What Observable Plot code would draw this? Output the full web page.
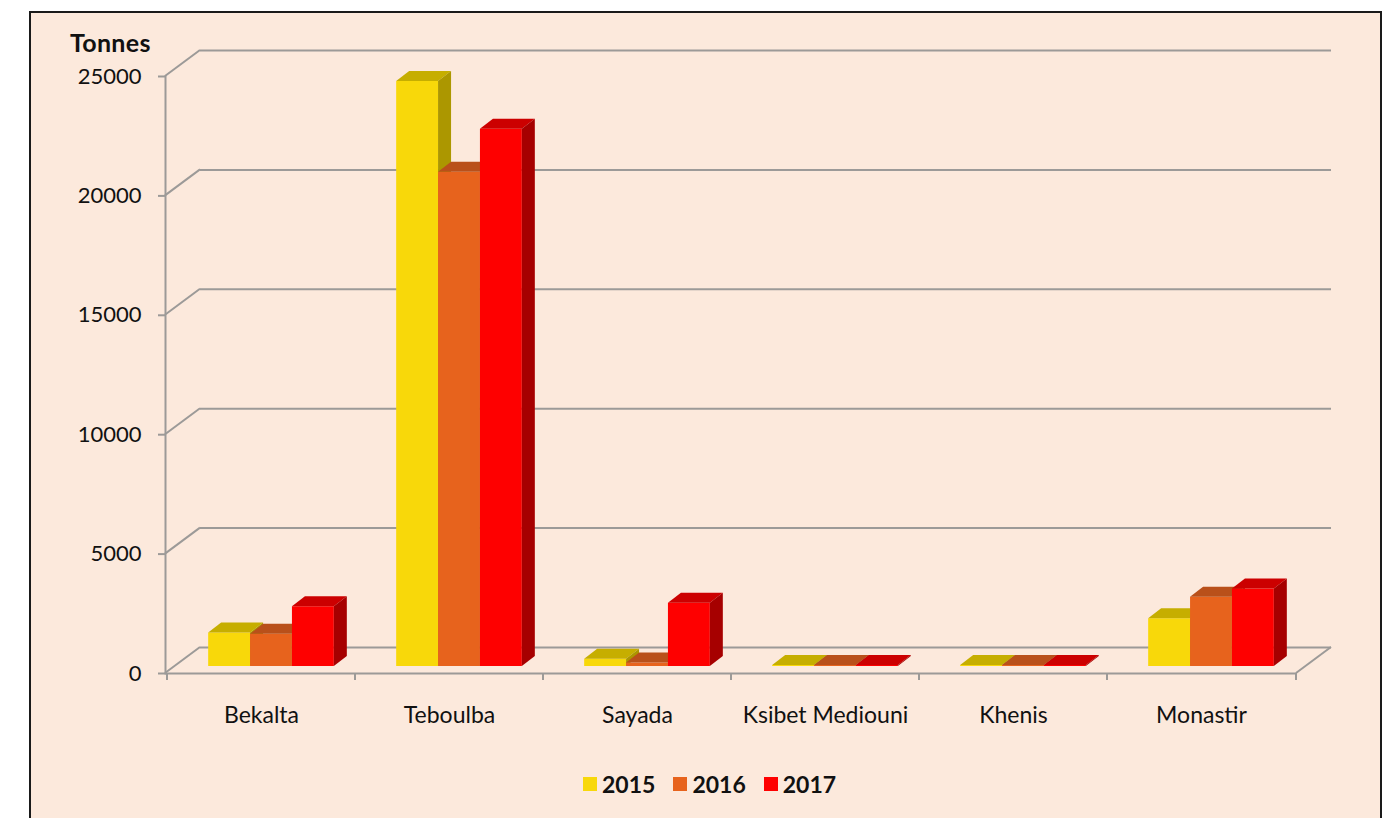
<!DOCTYPE html>
<html>
<head>
<meta charset="utf-8">
<script src="https://cdn.jsdelivr.net/npm/d3@7"></script>
<script src="https://cdn.jsdelivr.net/npm/@observablehq/plot@0.6"></script>
<style>
  html, body { margin: 0; padding: 0; background: #ffffff; }
  #frame { position: absolute; left: 29px; top: 11px; width: 1353px; height: 830px; box-sizing: border-box;
           border: 2px solid #1a1a1a; background: #FCE9DC; }
  #chart { position: absolute; left: 0; top: 0; }
  #ylabel { position: absolute; left: 70px; top: 27px; font: bold 25px Lato, sans-serif; letter-spacing: 0.3px; color: #111; }
  #legend { position: absolute; left: 583px; top: 770px; display: flex; align-items: center;
            font: bold 23px Lato, sans-serif; color: #111; }
  #legend .item { display: flex; align-items: center; margin-right: 18px; }
  #legend .sw { width: 14px; height: 14px; margin-right: 5px; }
</style>
</head>
<body>
<div id="frame"></div>
<div id="chart"></div>
<div id="ylabel">Tonnes</div>
<div id="legend"></div>
<script>
// ---- data ----
const categories = ["Bekalta", "Teboulba", "Sayada", "Ksibet Mediouni", "Khenis", "Monastir"];
const years = ["2015", "2016", "2017"];
const values2015 = [1400, 24500, 300, 40, 40, 2000];
const values2016 = [1350, 20700, 150, 40, 40, 2900];
const values2017 = [2500, 22500, 2650, 40, 40, 3250];
const yTicks = [0, 5000, 10000, 15000, 20000, 25000];

// ---- styles ----
const frontColors = ["#F8D80A", "#E7631D", "#FE0000"];
const topColors = ["#C6AE00", "#B9501A", "#CC0000"];
const sideColors = ["#AC9700", "#A04318", "#A60000"];
const GRID = "#9c9a98";
const FLOOR = {dx: 35, dy: -26};
const BAR = {ox: 10, oy: -7, dx: 13, dy: -10};

const series = [values2015, values2016, values2017];
const data = categories.flatMap((c, i) => series.map((vals, j) => ({category: c, year: years[j], j, value: vals[i]})));

function frame3d(index, scales, values, dims) {
  const g = d3.create("svg:g").attr("stroke", GRID).attr("stroke-width", 2).attr("fill", "none");
  const xl = dims.marginLeft, xr = dims.width - dims.marginRight;
  const y0 = scales.y(0);
  for (const i of index) {
    const y = values.y[i];
    g.append("line").attr("x1", xl).attr("y1", y).attr("x2", xl + FLOOR.dx).attr("y2", y + FLOOR.dy);
  }
  g.append("line").attr("x1", xr).attr("y1", y0).attr("x2", xr + FLOOR.dx).attr("y2", y0 + FLOOR.dy);
  const bounds = categories.map(c => scales.x(c)).concat([xr]);
  for (const x of bounds) {
    g.append("line").attr("x1", x).attr("y1", y0).attr("x2", x).attr("y2", y0 + 7);
  }
  return g.node();
}

function bars3d(index, scales, values) {
  const g = d3.create("svg:g");
  const bw = scales.x.bandwidth();
  const sub = d3.scaleBand().domain(years).range([0, bw]).paddingInner(0).paddingOuter(0.744);
  const w = sub.bandwidth();
  for (const i of index) {
    const d = data[i];
    const x0 = values.x[i] + sub(d.year) + BAR.ox;
    const x1 = x0 + w;
    const yb = values.y1[i] + BAR.oy;
    const yt = values.y2[i] + BAR.oy;
    g.append("path").attr("fill", frontColors[d.j])
      .attr("d", `M${x0},${yb}L${x1},${yb}L${x1},${yt}L${x0},${yt}Z`);
    g.append("path").attr("fill", topColors[d.j])
      .attr("d", `M${x0},${yt}L${x1},${yt}L${x1 + BAR.dx},${yt + BAR.dy}L${x0 + BAR.dx},${yt + BAR.dy}Z`);
    g.append("path").attr("fill", sideColors[d.j])
      .attr("d", `M${x1},${yb}L${x1 + BAR.dx},${yb + BAR.dy}L${x1 + BAR.dx},${yt + BAR.dy}L${x1},${yt}Z`);
  }
  return g.node();
}

const chart = Plot.plot({
  width: 1386,
  height: 760,
  marginLeft: 165,
  marginRight: 90,
  marginTop: 76,
  marginBottom: 87,
  style: {background: "transparent", fontFamily: "Lato, sans-serif", fontSize: "22px", color: "#111"},
  x: {domain: categories, padding: 0, label: null},
  y: {domain: [0, 25000], label: null},
  marks: [
    Plot.ruleY(yTicks, {stroke: GRID, strokeWidth: 2, dx: FLOOR.dx, dy: FLOOR.dy}),
    Plot.ruleY(yTicks, {y: d => d, stroke: GRID, render: frame3d}),
    Plot.ruleY([0], {stroke: GRID, strokeWidth: 2}),
    Plot.frame({anchor: "left", stroke: GRID, strokeWidth: 2}),
    Plot.axisY({ticks: yTicks, tickSize: 7, tickPadding: 17, tickFormat: d => String(d), stroke: GRID, strokeWidth: 2, fontSize: 22, label: null}),
    Plot.axisX({tickSize: 0, tickPadding: 33, fontSize: 23, label: null}),
    Plot.barY(data, {x: "category", y1: 0, y2: "value", render: bars3d})
  ]
});
document.getElementById("chart").appendChild(chart);

const legend = document.getElementById("legend");
years.forEach((y, j) => {
  const item = document.createElement("div");
  item.className = "item";
  item.innerHTML = `<span class="sw" style="background:${frontColors[j]}"></span><span>${y}</span>`;
  legend.appendChild(item);
});
</script>
</body>
</html>
